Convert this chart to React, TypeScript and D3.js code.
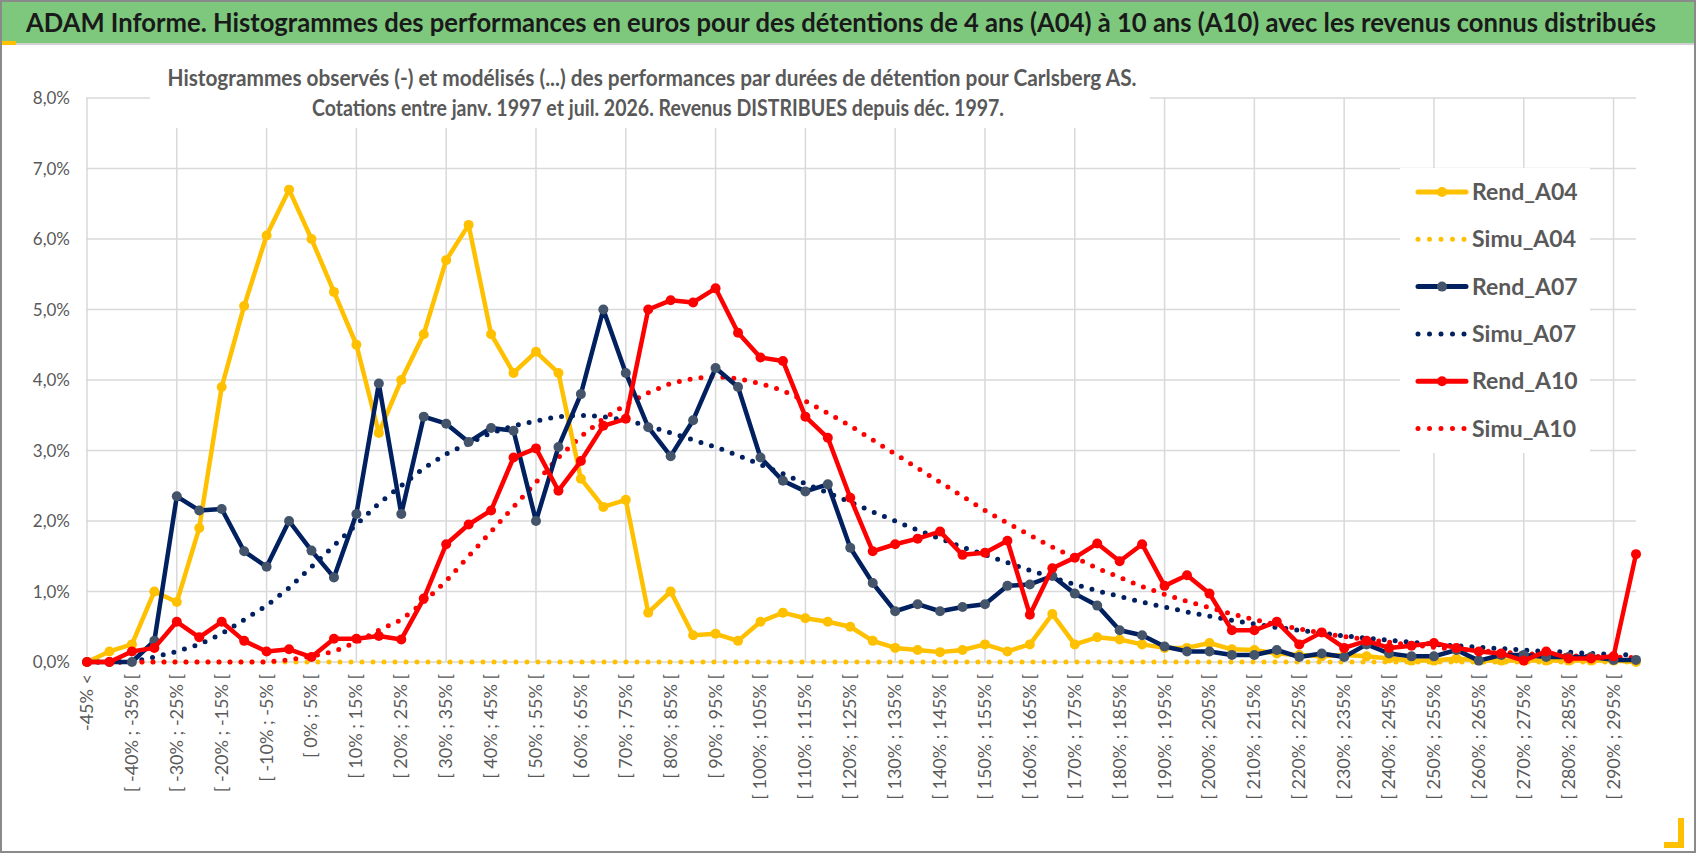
import React from "react";
import * as d3 from "d3";

const lowerBounds = d3.range(-45, 300, 5);
const categories: string[] = ["-45% <", ...lowerBounds.slice(0, 68).map((b) => `[ ${b}% ; ${b + 5}% [`), "295% >"];

const rendA04 = [0,0.15,0.25,1.0,0.85,1.9,3.9,5.05,6.05,6.7,6.0,5.25,4.5,3.25,4.0,4.65,5.7,6.2,4.65,4.1,4.4,4.1,2.6,2.2,2.3,0.7,1.0,0.38,0.4,0.3,0.57,0.7,0.62,0.57,0.5,0.3,0.2,0.17,0.14,0.17,0.25,0.15,0.25,0.68,0.25,0.35,0.32,0.25,0.2,0.2,0.27,0.18,0.17,0.12,0.1,0.08,0.1,0.08,0.05,0.02,0.02,0.05,0.02,0.02,0.02,0.02,0.02,0.02,0.02,0.0];
const simuA04 = [0,0,0,0,0,0,0,0,0,0,0,0,0,0,0,0,0,0,0,0,0,0,0,0,0,0,0,0,0,0,0,0,0,0,0,0,0,0,0,0,0,0,0,0,0,0,0,0,0,0,0,0,0,0,0,0,0,0,0,0,0,0,0,0,0,0,0,0,0,0];
const rendA07 = [0,0,0,0.3,2.35,2.15,2.17,1.57,1.35,2.0,1.58,1.2,2.1,3.95,2.1,3.48,3.38,3.12,3.32,3.28,2.0,3.05,3.8,5.0,4.1,3.33,2.92,3.43,4.17,3.9,2.9,2.57,2.42,2.52,1.62,1.12,0.72,0.82,0.72,0.78,0.82,1.08,1.1,1.22,0.97,0.8,0.45,0.38,0.22,0.15,0.15,0.1,0.1,0.17,0.07,0.12,0.07,0.25,0.12,0.08,0.08,0.17,0.02,0.1,0.1,0.07,0.07,0.07,0.03,0.03];
const simuA07 = [0,0,0,0.07,0.15,0.25,0.4,0.6,0.8,1.05,1.35,1.65,1.95,2.25,2.5,2.75,2.95,3.1,3.25,3.35,3.42,3.48,3.5,3.48,3.43,3.35,3.25,3.15,3.05,2.93,2.8,2.67,2.53,2.4,2.27,2.13,2.0,1.87,1.75,1.63,1.52,1.41,1.3,1.2,1.1,1.01,0.93,0.85,0.78,0.71,0.65,0.59,0.54,0.49,0.45,0.41,0.37,0.34,0.31,0.28,0.25,0.23,0.21,0.19,0.17,0.15,0.14,0.12,0.11,0.1];
const rendA10 = [0,0,0.15,0.2,0.57,0.35,0.57,0.3,0.15,0.18,0.07,0.33,0.33,0.37,0.32,0.9,1.67,1.95,2.15,2.9,3.03,2.43,2.85,3.35,3.45,5.0,5.13,5.1,5.3,4.67,4.32,4.27,3.48,3.18,2.33,1.57,1.67,1.75,1.85,1.52,1.55,1.72,0.67,1.33,1.48,1.68,1.43,1.67,1.08,1.23,0.97,0.45,0.45,0.57,0.25,0.42,0.2,0.3,0.2,0.23,0.27,0.2,0.15,0.12,0.02,0.15,0.05,0.05,0.08,1.53];
const simuA10 = [0,0,0,0,0,0,0,0,0,0.03,0.08,0.15,0.28,0.45,0.6,0.85,1.15,1.5,1.85,2.2,2.55,2.9,3.2,3.45,3.65,3.82,3.95,4.02,4.05,4.02,3.95,3.85,3.7,3.53,3.35,3.15,2.95,2.75,2.55,2.35,2.15,1.97,1.8,1.63,1.48,1.33,1.2,1.07,0.96,0.86,0.77,0.68,0.6,0.53,0.47,0.41,0.36,0.32,0.28,0.24,0.21,0.18,0.16,0.14,0.12,0.1,0.09,0.08,0.07,0.06];
const yTicks = [0,1,2,3,4,5,6,7,8];

const YELLOW = "#ffc000", NAVY = "#002060", RED = "#ff0000";
const series = [
  { name: "Rend_A04", values: rendA04, color: YELLOW, dotted: false, marker: YELLOW },
  { name: "Simu_A04", values: simuA04, color: YELLOW, dotted: true, marker: YELLOW },
  { name: "Rend_A07", values: rendA07, color: NAVY, dotted: false, marker: "#44546a" },
  { name: "Simu_A07", values: simuA07, color: NAVY, dotted: true, marker: NAVY },
  { name: "Rend_A10", values: rendA10, color: RED, dotted: false, marker: RED },
  { name: "Simu_A10", values: simuA10, color: RED, dotted: true, marker: RED },
];
const drawOrder = [1, 3, 5, 0, 2, 4];

const FONT = "Lato, 'Open Sans', sans-serif";
const W = 1698, H = 854;
const L = 87, R = 1636, T = 98, B = 662;

export default function App() {
  const x = d3.scalePoint<number>().domain(d3.range(categories.length)).range([L, R]);
  const y = d3.scaleLinear().domain([0, 8]).range([B, T]);
  const line = d3.line<number>().x((_, i) => x(i)!).y((v) => y(v));
  const gridIdx = d3.range(0, categories.length, 4);
  return (
    <svg width={W} height={H} style={{ position: "absolute", left: 0, top: 0, background: "#fff" }}>
      <rect x={1} y={1} width={W - 4} height={H - 3} fill="#fff" stroke="#8a8a8a" strokeWidth={2} />
      <rect x={2} y={2} width={W - 6} height={41} fill="#7dc87d" />
      <line x1={2} x2={W - 4} y1={44} y2={44} stroke="#d0d0d0" strokeWidth={2} />
      <rect x={2} y={41} width={14} height={4} fill={YELLOW} />
      <rect x={W - 20} y={H - 36} width={6} height={30} fill={YELLOW} />
      <rect x={W - 34} y={H - 12} width={20} height={6} fill={YELLOW} />
      <text x={26} y={32} fontFamily={FONT} fontWeight="bold" fontSize={27} fill="#1a1a1a"
        textLength={1630} lengthAdjust="spacingAndGlyphs">
        ADAM Informe. Histogrammes des performances en euros pour des détentions de 4 ans (A04) à 10 ans (A10) avec les revenus connus distribués
      </text>
      {yTicks.map((t) => (
        <g key={t}>
          <line x1={L - 1} x2={R} y1={y(t)} y2={y(t)} stroke="#d9d9d9" strokeWidth={1.5} />
          <text x={70} y={y(t) + 6} textAnchor="end" fontFamily={FONT} fontSize={17} fill="#595959">
            {d3.format(".1f")(t).replace(".", ",")}%
          </text>
        </g>
      ))}
      {gridIdx.map((i) => (
        <line key={i} x1={x(i)} x2={x(i)} y1={T} y2={B} stroke="#d9d9d9" strokeWidth={1.5} />
      ))}
      <rect x={150} y={62} width={1000} height={66} fill="#fff" />
      <text x={652} y={86} textAnchor="middle" fontFamily={FONT} fontWeight="bold" fontSize={22} fill="#595959"
        textLength={969} lengthAdjust="spacingAndGlyphs">
        Histogrammes observés (-) et modélisés (...) des performances par durées de détention pour Carlsberg AS.
      </text>
      <text x={658} y={116} textAnchor="middle" fontFamily={FONT} fontWeight="bold" fontSize={22} fill="#595959"
        textLength={692} lengthAdjust="spacingAndGlyphs">
        Cotations entre janv. 1997 et juil. 2026. Revenus DISTRIBUES depuis déc. 1997.
      </text>
      {categories.map((c, i) =>
        i % 2 === 0 ? (
          <text key={i} transform={`translate(${x(i)! + 6},${B + 12}) rotate(-90)`} textAnchor="end"
            fontFamily={FONT} fontSize={18} fill="#595959">{c}</text>
        ) : null
      )}
      {drawOrder.map((k) => {
        const s = series[k];
        return (
          <g key={s.name}>
            <path d={line(s.values)!} fill="none" stroke={s.color}
              strokeWidth={s.dotted ? 5 : 4.5} strokeLinecap="round" strokeLinejoin="round"
              strokeDasharray={s.dotted ? "0 11" : undefined} />
            {!s.dotted && s.values.map((v, i) => (
              <circle key={i} cx={x(i)} cy={y(v)} r={5} fill={s.marker} />
            ))}
          </g>
        );
      })}
      <rect x={1400} y={168} width={190} height={285} fill="#fff" />
      {series.map((s, i) => {
        const ly = 192 + i * 47.3;
        return (
          <g key={s.name}>
            <line x1={1418} x2={1466} y1={ly} y2={ly} stroke={s.color} strokeWidth={5}
              strokeLinecap="round" strokeDasharray={s.dotted ? "0 11.5" : undefined} />
            {!s.dotted && <circle cx={1442} cy={ly} r={5} fill={s.marker} />}
            <text x={1472} y={ly + 8} fontFamily={FONT} fontWeight="bold" fontSize={23} fill="#595959">{s.name}</text>
          </g>
        );
      })}
    </svg>
  );
}
